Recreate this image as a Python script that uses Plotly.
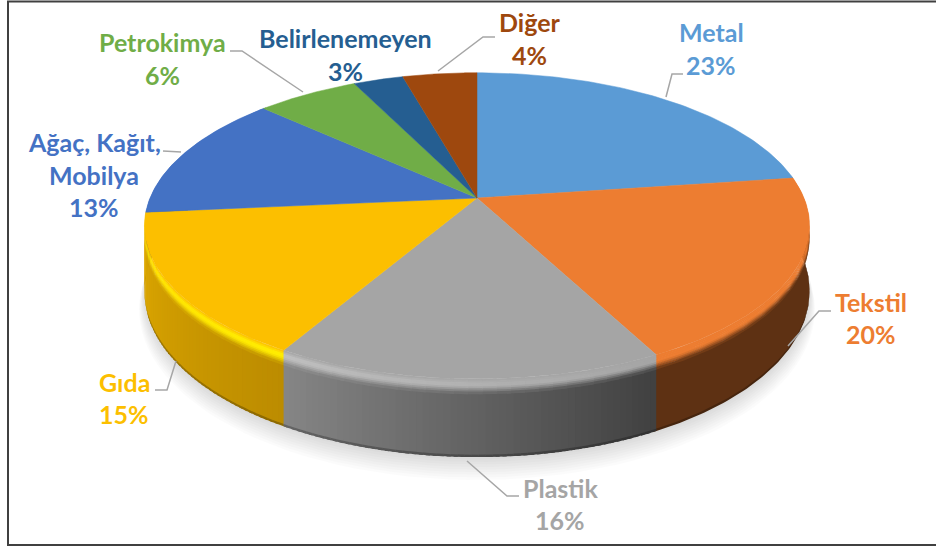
import numpy as np
import plotly.graph_objects as go

# ---- data ----
categories = ["Metal", "Tekstil", "Plastik", "Gıda", "Ağaç, Kağıt, Mobilya", "Petrokimya", "Belirlenemeyen", "Diğer"]
values = [22.8, 19.6, 15.9, 15.2, 13.4, 5.9, 2.9, 4.3]
percent_labels = ["23%", "20%", "16%", "15%", "13%", "6%", "3%", "4%"]
colors = ["#5B9BD5", "#ED7D31", "#A5A5A5", "#FCBF00", "#4472C4", "#70AD47", "#255E91", "#9E480E"]

# ---- styling of the 3-D look (clockwise start/end of each slice) ----
wall_start = ["#34597A", "#5E3113", "#404040", "#BC8C00", "#2A4678", "#44692B", "#16395A", "#602C08"]
wall_end = ["#34597A", "#5E3113", "#868686", "#E0AA00", "#2A4678", "#44692B", "#16395A", "#602C08"]
rim_start = ["#5B9BD5", "#ED7D31", "#A5A5A5", "#FFEC00", "#4472C4", "#70AD47", "#255E91", "#9E480E"]
rim_end = ["#5B9BD5", "#ED7D31", "#BEBEBE", "#FFDE00", "#5B8BE0", "#70AD47", "#255E91", "#9E480E"]

CX, CY, A, B, K = 477.0, 198.0, 327.0, 148.0, 0.1818
FILLET, HEIGHT = 12.0, 64.0


def proj(theta, z=0.0, r=1.0):
    """theta clockwise from 12 o'clock, radians; z = drop in px before perspective."""
    X, Y = r * np.sin(theta), r * np.cos(theta)
    w = 1 + K * Y
    return CX + A * X / w, CY + (-B * Y + z) / w


def hex2rgb(h):
    return np.array([int(h[i:i + 2], 16) for i in (1, 3, 5)], float)


def mix(c1, c2, t):
    c = hex2rgb(c1) * (1 - t) + hex2rgb(c2) * t
    return "#%02x%02x%02x" % tuple(int(round(v)) for v in c)


fig = go.Figure()


def poly(xs, ys, color, lw=0.0):
    fig.add_trace(go.Scatter(x=list(xs), y=list(ys), mode="lines", fill="toself", fillcolor=color,
                             line=dict(color=color, width=lw), hoverinfo="skip", showlegend=False))


def band(arc, z0, z1, color, lw=0.0):
    xa, ya = proj(arc, z0)
    xb, yb = proj(arc[::-1], z1)
    poly(np.r_[xa, xb, xa[0]], np.r_[ya, yb, ya[0]], color, lw)


# soft shadow below the pie
tt = np.radians(np.linspace(60, 300, 90))
for i in range(9):
    d = 2 + i * 1.7
    e = 0.002 * i
    x, y = proj(tt, HEIGHT + d, 1 + e)
    x0, y0 = proj(tt[::-1], 0, 1)
    poly(np.r_[x, x0], np.r_[y, y0], "rgba(0,0,0,0.014)", 0)

# slice angles
fractions = np.array(values, float) / sum(values)
edges = np.r_[0, np.cumsum(fractions)] * 2 * np.pi

fillet_t = [0, 0.12, 0.24, 0.36, 0.5, 0.62, 0.74, 0.86, 1.0]
OVER = np.radians(0.6)

# walls and rounded rim, far slices first; every strip overlaps the next so no seams show
order = sorted(range(len(values)), key=lambda i: -np.cos((edges[i] + edges[i + 1]) / 2))
for i in order:
    a0, a1 = edges[i], edges[i + 1]
    if np.cos((a0 + a1) / 2) > 0.45:
        continue
    ext = OVER if i != order[-1] else 0.0  # slip under the slice in front
    shaded = wall_start[i] != wall_end[i]
    n = max(1, int(np.degrees(a1 - a0))) if shaded else 1
    g = np.linspace(a0, a1, n + 1)
    for j in range(n):
        u = (j + 0.5) / n
        wall = mix(wall_start[i], wall_end[i], u)
        start = g[j] - (ext if j == 0 else 0)
        end = g[j + 1] + (OVER if j < n - 1 else ext)
        arc = np.linspace(start, end, 4 if shaded else 90)
        band(arc, FILLET - 1, HEIGHT - 1, wall)
        band(arc, HEIGHT - 2.0, HEIGHT, mix(wall, "#000000", 0.25))
    m = max(1, int(np.degrees(a1 - a0) / 2)) if shaded else 1
    g = np.linspace(a0, a1, m + 1)
    for j in range(m):
        u = (j + 0.5) / m
        wall = mix(wall_start[i], wall_end[i], u)
        rim = mix(rim_start[i], rim_end[i], u)
        start = g[j] - (ext if j == 0 else 0)
        end = g[j + 1] + (OVER if j < m - 1 else ext)
        arc = np.linspace(start, end, 4 if shaded else 90)
        for k in range(len(fillet_t) - 1):
            s = (fillet_t[k] + fillet_t[k + 1]) / 2
            if s < 0.3:
                col = mix(colors[i], rim, s / 0.3)
            elif s < 0.5:
                col = rim
            else:
                col = mix(rim, wall, (s - 0.5) / 0.5)
            band(arc, FILLET * fillet_t[k], FILLET * fillet_t[k + 1] + 0.6, col)

# top faces
for i in range(len(values)):
    arc = np.linspace(edges[i], edges[i + 1], 80)
    x, y = proj(arc)
    poly(np.r_[CX, x, CX], np.r_[CY, y, CY], colors[i], 0.5)

# label text: category lines + percentage, centre positions are layout only
label_lines = [["Metal"], ["Tekstil"], ["Plastik"], ["Gıda"], ["Ağaç, Kağıt,", "Mobilya"], ["Petrokimya"],
               ["Belirlenemeyen"], ["Diğer"]]
label_pos = [[(711, 33), (711, 66)], [(871, 303), (871, 335)], [(560, 489), (560, 521)], [(124, 383), (124, 415)],
             [(94, 143), (94, 176), (94, 208)], [(162, 43), (162, 76)], [(345, 39), (345, 72)], [(529, 23), (529, 56)]]
for i, lines in enumerate(label_lines):
    for text, (lx, ly) in zip(lines + [percent_labels[i]], label_pos[i]):
        fig.add_annotation(x=lx, y=ly - 1, text="<b>%s</b>" % text, showarrow=False, xanchor="center", yanchor="middle",
                           font=dict(family="Lato", size=25, color=colors[i]))

# leader lines
leaders = [
    [(230, 51), (242, 51), (303, 92)],
    [(163, 151), (181, 152)],
    [(495, 37), (483, 37), (438, 71)],
    [(683, 74), (672, 74), (666, 97)],
    [(831, 311), (819, 311), (788, 346)],
    [(519, 496), (507, 496), (467, 461)],
    [(155, 390), (167, 390), (176, 361)],
]
shapes = []
for pts in leaders:
    path = "M" + " L".join("%g,%g" % p for p in pts)
    shapes.append(dict(type="path", path=path, line=dict(color="#A6A6A6", width=1.5), xref="x", yref="y"))
# outer frame
shapes.append(dict(type="rect", x0=8, y0=1.5, x1=945, y1=545, line=dict(color="#404040", width=2), xref="x", yref="y", layer="below"))

fig.update_layout(
    width=936, height=546, margin=dict(l=0, r=0, t=0, b=0),
    paper_bgcolor="white", plot_bgcolor="white", showlegend=False, shapes=shapes,
    xaxis=dict(range=[0, 936], visible=False, fixedrange=True),
    yaxis=dict(range=[546, 0], visible=False, fixedrange=True),
)
fig.write_html("out.html", config={"displayModeBar": False},
               post_script="document.body.style.margin='0';document.body.style.overflow='hidden';")
